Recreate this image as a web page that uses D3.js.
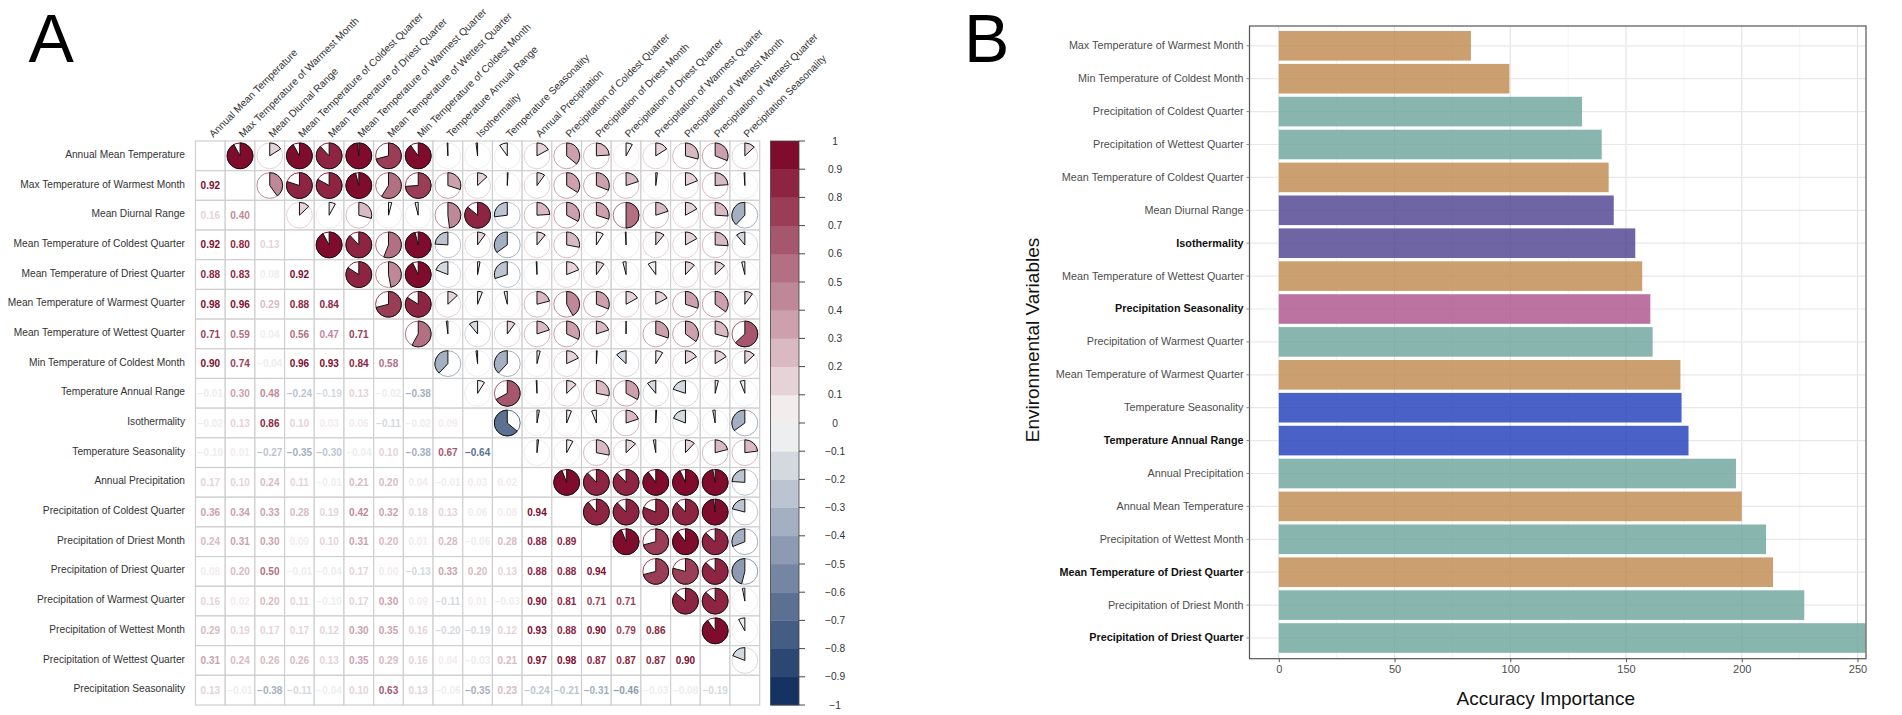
<!DOCTYPE html>
<html><head><meta charset="utf-8">
<script src="https://cdn.jsdelivr.net/npm/d3@7"></script>
<style>
html,body{margin:0;padding:0;background:#fff;overflow:hidden}
text{font-family:"Liberation Sans",Arial,sans-serif}
</style></head><body>
<svg id="c" width="1902" height="715"></svg>
<script>
const variables = ["Annual Mean Temperature","Max Temperature of Warmest Month","Mean Diurnal Range","Mean Temperature of Coldest Quarter","Mean Temperature of Driest Quarter","Mean Temperature of Warmest Quarter","Mean Temperature of Wettest Quarter","Min Temperature of Coldest Month","Temperature Annual Range","Isothermality","Temperature Seasonality","Annual Precipitation","Precipitation of Coldest Quarter","Precipitation of Driest Month","Precipitation of Driest Quarter","Precipitation of Warmest Quarter","Precipitation of Wettest Month","Precipitation of Wettest Quarter","Precipitation Seasonality"];
const lowerTriangle = [
[],
[.92],
[.16,.40],
[.92,.80,.13],
[.88,.83,.08,.92],
[.98,.96,.29,.88,.84],
[.71,.59,.04,.56,.47,.71],
[.90,.74,-.04,.96,.93,.84,.58],
[-.01,.30,.48,-.24,-.19,.13,-.02,-.38],
[-.02,.13,.86,.10,.03,.06,-.11,-.02,.09],
[-.10,.01,-.27,-.35,-.30,-.04,.10,-.38,.67,-.64],
[.17,.10,.24,.11,-.01,.21,.20,.04,-.01,.03,.02],
[.36,.34,.33,.28,.19,.42,.32,.18,.13,.06,.08,.94],
[.24,.31,.30,.09,.10,.31,.20,.01,.28,-.06,.28,.88,.89],
[.08,.20,.50,-.01,-.04,.17,.00,-.13,.33,.20,.13,.88,.88,.94],
[.16,.02,.20,.11,-.10,.17,.30,.09,-.11,.01,-.03,.90,.81,.71,.71],
[.29,.19,.17,.17,.12,.30,.35,.16,-.20,-.19,.12,.93,.88,.90,.79,.86],
[.31,.24,.26,.26,.13,.35,.29,.16,.04,-.03,.21,.97,.98,.87,.87,.87,.90],
[.13,-.01,-.38,-.11,-.04,.10,.63,.13,-.06,-.35,.23,-.24,-.21,-.31,-.46,-.03,-.08,-.19]
];
const legendTicks = d3.range(-10,11).map(d=>d/10);

const impNames = ["Max Temperature of Warmest Month","Min Temperature of Coldest Month","Precipitation of Coldest Quarter","Precipitation of Wettest Quarter","Mean Temperature of Coldest Quarter","Mean Diurnal Range","Isothermality","Mean Temperature of Wettest Quarter","Precipitation Seasonality","Precipitation of Warmest Quarter","Mean Temperature of Warmest Quarter","Temperature Seasonality","Temperature Annual Range","Annual Precipitation","Annual Mean Temperature","Precipitation of Wettest Month","Mean Temperature of Driest Quarter","Precipitation of Driest Month","Precipitation of Driest Quarter"];
const impValues = [83,99.6,131,139.5,142.5,144.7,154,157,160.5,161.5,173.5,174,177,197.5,200,210.5,213.5,227,253.5];
const impGroups = ["t","t","p","p","t","d","d","t","s","p","t","r","r","p","t","p","t","p","p"];
const impBold = ["Isothermality","Precipitation Seasonality","Temperature Annual Range","Mean Temperature of Driest Quarter","Precipitation of Driest Quarter"];
const groupColors = {t:"#c08a50",p:"#6ea69d",d:"#4f4391",s:"#ad548c",r:"#2240bb"};

const svg = d3.select("#c");
const txtCol = "#333";

// Panel letters
svg.append("text").attr("x",28.5).attr("y",61.5).attr("font-size",68).attr("fill","#000").text("A");
svg.append("text").attr("x",964).attr("y",61.5).attr("font-size",68).attr("fill","#000").text("B");

// ---------- Panel A
const n = variables.length;
const idx = d3.range(n);
const mx = d3.scaleBand().domain(idx).range([195.5,759.7]);
const my = d3.scaleBand().domain(idx).range([141,705]);
const val = (i,j)=> i===j ? null : (i>j ? lowerTriangle[i][j] : lowerTriangle[j][i]);

const ramp = d3.scaleLinear().domain([-1,0,1]).range(["#08295a","#f8f8f8","#7a0022"]);
const binned = d3.scaleQuantize().domain([-1,1]).range(d3.range(20).map(k=>ramp(-1+(k+.5)*.1)));
const colorOf = v => binned(Math.max(-.9999,Math.min(.9999,v)));

const cellData = idx.flatMap(i=>idx.map(j=>({i,j,v:val(i,j)})));
const A = svg.append("g");

A.selectAll("rect.cell").data(cellData).join("rect").attr("class","cell")
  .attr("x",d=>mx(d.j)).attr("y",d=>my(d.i))
  .attr("width",mx.bandwidth()).attr("height",my.bandwidth())
  .attr("fill","#fff").attr("stroke","#cfcfcf").attr("stroke-width",1.2);

A.selectAll("text.rl").data(variables).join("text").attr("class","rl")
  .attr("x",185).attr("y",(d,i)=>my(i)+my.bandwidth()/2-1.5).attr("dy","0.35em")
  .attr("text-anchor","end").attr("font-size",10.2).attr("fill",txtCol).text(d=>d);

A.selectAll("text.cl").data(variables).join("text").attr("class","cl")
  .attr("text-anchor","start").attr("font-size",10.2).attr("fill",txtCol)
  .attr("transform",(d,i)=>`translate(${mx(i)+mx.bandwidth()/2+3},${my.range()[0]-3}) rotate(-45)`)
  .text(d=>d);

// numbers below diagonal
const fmt = v => { const s=Math.abs(v).toFixed(2); return (v<0?"\u2212":"")+s; };
A.selectAll("text.num").data(cellData.filter(d=>d.i>d.j)).join("text").attr("class","num")
  .attr("x",d=>mx(d.j)+mx.bandwidth()/2).attr("y",d=>my(d.i)+my.bandwidth()/2)
  .attr("dy","0.36em").attr("text-anchor","middle").attr("font-size",10)
  .attr("font-weight","bold").attr("fill",d=>colorOf(d.v)).text(d=>fmt(d.v));

// pies above diagonal
const pieR = 12.9;
const arc = d3.arc().innerRadius(0).outerRadius(pieR).startAngle(0).endAngle(d=>2*Math.PI*d.v);
const pieG = A.selectAll("g.pie").data(cellData.filter(d=>d.i<d.j)).join("g").attr("class","pie")
  .attr("transform",d=>`translate(${mx(d.j)+mx.bandwidth()/2},${my(d.i)+my.bandwidth()/2})`);
pieG.append("circle").attr("r",pieR).attr("fill","#fff").attr("stroke",d=>colorOf(d.v)).attr("stroke-width",1);
pieG.append("path").attr("d",d=>arc(d)).attr("fill",d=>colorOf(d.v)).attr("stroke","#111").attr("stroke-width",1).attr("stroke-linejoin","miter");

// colour legend
const legX0 = 770.5, legX1 = 799;
const ly = d3.scaleLinear().domain([1,-1]).range([141,705]);
const bins = d3.range(20).map(k=>-1+k*.1);
const L = svg.append("g");
L.selectAll("rect").data(bins).join("rect")
  .attr("x",legX0).attr("width",legX1-legX0)
  .attr("y",d=>ly(d+.1)).attr("height",d=>ly(d)-ly(d+.1)+.4)
  .attr("fill",d=>colorOf(d+.05));
L.append("rect").attr("x",legX0).attr("y",141).attr("width",legX1-legX0).attr("height",564).attr("fill","none").attr("stroke","#444").attr("stroke-width",.8);
L.selectAll("line.t").data(legendTicks).join("line").attr("class","t")
  .attr("x1",legX1).attr("x2",805).attr("y1",d=>ly(d)).attr("y2",d=>ly(d))
  .attr("stroke","#333").attr("stroke-width",.9);
L.selectAll("text").data(legendTicks).join("text")
  .attr("x",835).attr("y",d=>ly(d)).attr("dy","0.35em").attr("text-anchor","middle")
  .attr("font-size",10.2).attr("fill",txtCol)
  .text(d=>d<0?"\u2212"+Math.abs(d):String(d));

// ---------- Panel B
const fL=1249.5, fR=1866, fT=26, fB=658.7;
const bx = d3.scaleLinear().domain([0,250]).range([1278.8,1857.5]);
const step = 32.9;
const by = d3.scaleBand().domain(impNames).range([fT+19.8-step/2,fT+19.8+18.5*step]).paddingInner(0.1).paddingOuter(0.05);
const B = svg.append("g");
B.append("rect").attr("x",fL).attr("y",fT).attr("width",fR-fL).attr("height",fB-fT).attr("fill","#fff");
// grid
const minor=[25,75,125,175,225];
B.selectAll("line.min").data(minor).join("line").attr("class","min")
  .attr("x1",d=>bx(d)).attr("x2",d=>bx(d)).attr("y1",fT).attr("y2",fB).attr("stroke","#f1f1f1").attr("stroke-width",.8);
B.selectAll("line.maj").data(bx.ticks(5)).join("line").attr("class","maj")
  .attr("x1",d=>bx(d)).attr("x2",d=>bx(d)).attr("y1",fT).attr("y2",fB).attr("stroke","#e4e4e4").attr("stroke-width",1.2);
B.selectAll("line.hg").data(impNames).join("line").attr("class","hg")
  .attr("x1",fL).attr("x2",fR).attr("y1",d=>by(d)+by.bandwidth()/2).attr("y2",d=>by(d)+by.bandwidth()/2).attr("stroke","#e8e8e8").attr("stroke-width",1.2);
// bars
B.selectAll("rect.bar").data(impNames).join("rect").attr("class","bar")
  .attr("x",bx(0)).attr("y",d=>by(d))
  .attr("width",(d,i)=>bx(impValues[i])-bx(0)).attr("height",by.bandwidth())
  .attr("fill",(d,i)=>groupColors[impGroups[i]]).attr("fill-opacity",.82);
// frame
B.append("rect").attr("x",fL).attr("y",fT).attr("width",fR-fL).attr("height",fB-fT).attr("fill","none").attr("stroke","#555").attr("stroke-width",1.2);
// axes
const axB = B.append("g").attr("transform",`translate(0,${fB})`).call(d3.axisBottom(bx).tickValues(bx.ticks(5)).tickSize(3.5).tickPadding(3));
axB.select(".domain").remove();
axB.selectAll("line").attr("stroke","#555");
axB.selectAll("text").attr("font-size",11).attr("fill","#4d4d4d").attr("font-family",'"Liberation Sans",Arial,sans-serif');
const axL = B.append("g").attr("transform",`translate(${fL},0)`).call(d3.axisLeft(by).tickSize(3).tickPadding(3));
axL.select(".domain").remove();
axL.selectAll("line").attr("stroke","#888");
axL.selectAll("text").attr("font-size",10.8).attr("font-family",'"Liberation Sans",Arial,sans-serif')
  .attr("fill",d=>impBold.includes(d)?"#111":"#4d4d4d")
  .attr("font-weight",d=>impBold.includes(d)?"bold":"normal");
// titles
svg.append("text").attr("text-anchor","middle").attr("font-size",19).attr("fill","#111")
  .attr("transform","translate(1039,340) rotate(-90)").text("Environmental Variables");
svg.append("text").attr("text-anchor","middle").attr("font-size",19).attr("fill","#111")
  .attr("x",(fL+fR)/2-12).attr("y",705).text("Accuracy Importance");
</script>
</body></html>
